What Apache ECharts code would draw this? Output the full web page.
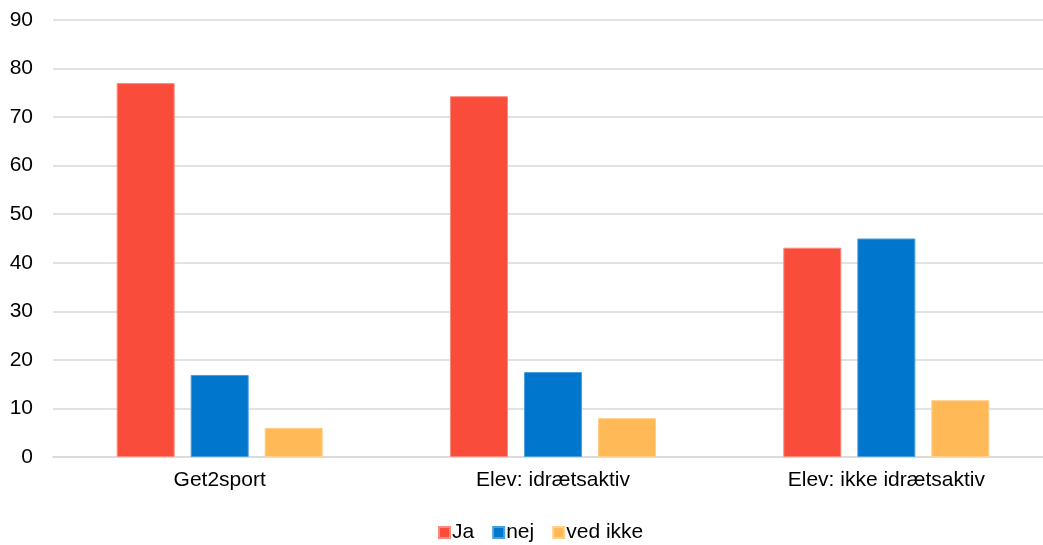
<!DOCTYPE html>
<html><head><meta charset="utf-8">
<script src="https://cdn.jsdelivr.net/npm/echarts@6/dist/echarts.min.js"></script>
<style>html,body{margin:0;padding:0;background:#fff;overflow:hidden}#c{width:1053px;height:545px}</style>
</head><body><div id="c"></div>
<script>
const categories = ['Get2sport', 'Elev: idrætsaktiv', 'Elev: ikke idrætsaktiv'];
const seriesNames = ['Ja', 'nej', 'ved ikke'];
const ja = [77, 74.3, 43.1];
const nej = [16.9, 17.5, 45.0];
const vedIkke = [6.0, 8.0, 11.7];
const colors = ['#F94C3B', '#0077CC', '#FFB957'];
const borders = ['#FB8A7E', '#4A9FDD', '#FFCF8C'];

const chart = echarts.init(document.getElementById('c'), null, {renderer: 'canvas'});
const font = 'Liberation Sans, Arial, sans-serif';
const mk = (name, data, i) => ({
  name, type: 'bar', data,
  barWidth: 58, barGap: '27.6%',
  itemStyle: {color: colors[i], borderColor: borders[i], borderWidth: 1},
  emphasis: {disabled: true}
});
chart.setOption({
  animation: false,
  color: colors,
  grid: {left: 53, right: 0, top: 20, height: 437, containLabel: false},
  legend: {
    top: 522, left: 438, padding: 0, itemWidth: 11, itemHeight: 11, itemGap: 18,
    icon: 'rect',
    textStyle: {fontFamily: font, fontSize: 21, color: '#000', padding: [0, 0, 0, -3]},
    data: seriesNames
  },
  xAxis: {
    type: 'category', data: categories,
    axisLine: {show: true, lineStyle: {color: '#d9d9d9', width: 1.5}},
    axisTick: {show: false},
    axisLabel: {fontFamily: font, fontSize: 21, color: '#000', margin: 13}
  },
  yAxis: {
    type: 'value', min: 0, max: 90, interval: 10,
    axisLine: {show: false}, axisTick: {show: false},
    splitLine: {lineStyle: {color: '#d9d9d9', width: 1.5}},
    axisLabel: {fontFamily: font, fontSize: 21, color: '#000', margin: 20}
  },
  series: [mk(seriesNames[0], ja, 0), mk(seriesNames[1], nej, 1), mk(seriesNames[2], vedIkke, 2)]
});
</script></body></html>
